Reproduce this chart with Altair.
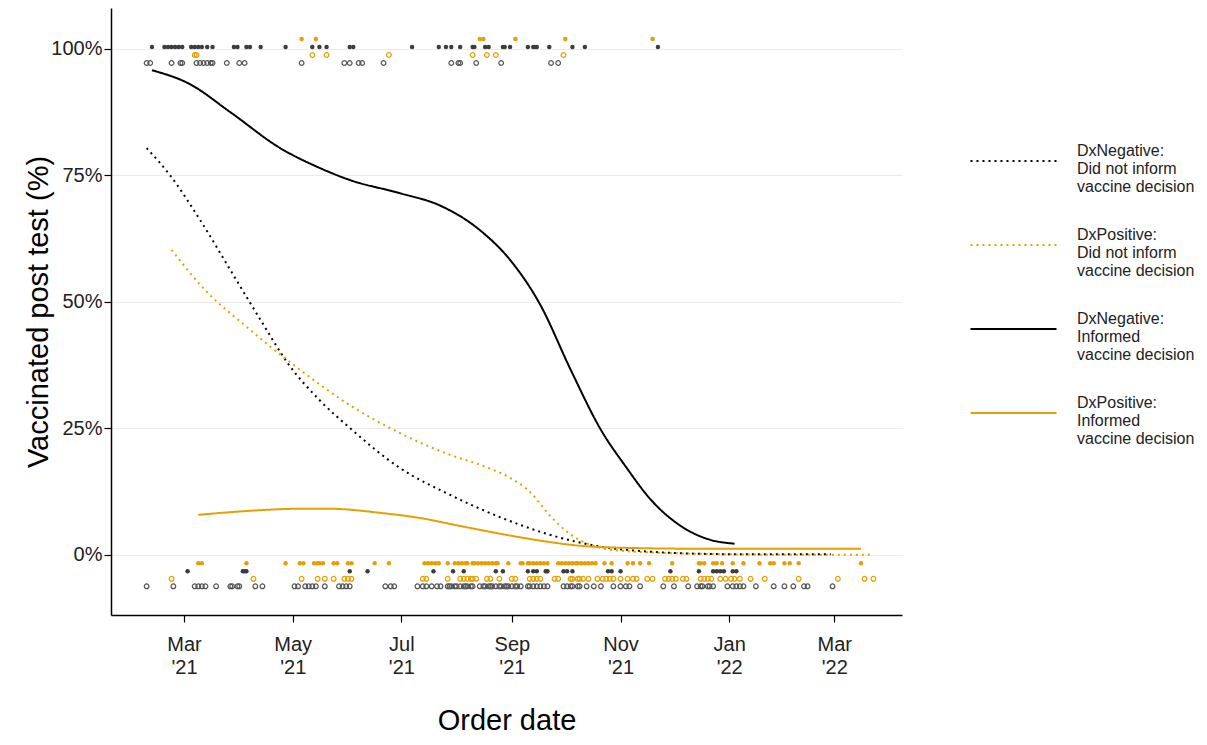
import altair as alt
import pandas as pd

# ---- Observations: order day counted from 2021-01-01 ----
# vaccinated after test (plotted near 100%)
neg_inf_vax = [41, 48, 50, 52, 54, 56, 58, 63, 65, 67, 69, 72, 75, 87, 89, 94, 96, 102, 116, 131, 135, 139,
               152, 154, 187, 202, 206, 209, 214, 221, 222, 228, 230, 238, 239, 242, 252, 255, 256, 257, 264,
               277, 284, 325]
pos_inf_vax = [125, 133, 225, 227, 245, 273, 322]
pos_not_vax = [65, 66, 131, 139, 174, 221, 229, 234, 272]
neg_not_vax = [38, 40, 52, 57, 58, 66, 68, 70, 72, 74, 75, 83, 90, 93, 125, 149, 152, 157, 159, 171, 209, 213,
               214, 223, 237, 265, 269]
# not vaccinated after test (plotted near 0%)
pos_inf_unvax = [67, 69, 94, 116, 124, 126, 132, 134, 135, 137, 143, 145, 151, 153, 166, 174, 194, 196, 198, 200,
                 202, 207, 211, 213, 215, 217, 218, 221, 222, 224, 226, 228, 230, 232, 234, 235, 241, 248, 249,
                 252, 253, 255, 257, 259, 261, 263, 269, 271, 273, 275, 277, 279, 280, 282, 284, 286, 288, 290,
                 295, 299, 308, 311, 315, 320, 333, 348, 349, 351, 356, 358, 361, 367, 373, 382, 388, 390, 396,
                 399, 404, 439]
neg_inf_unvax = [61, 92, 93, 94, 152, 162, 199, 210, 216, 234, 238, 252, 255, 257, 262, 263, 272, 274, 277, 297,
                 299, 304, 332, 348, 356, 358, 360, 362, 367, 369]
pos_not_unvax = [52, 98, 125, 134, 138, 143, 149, 151, 153, 193, 195, 207, 214, 216, 218, 220, 221, 223, 229, 231,
                 236, 243, 245, 253, 255, 257, 259, 267, 269, 276, 277, 280, 281, 283, 286, 291, 294, 296, 298,
                 300, 304, 308, 311, 313, 319, 322, 329, 331, 333, 335, 339, 341, 349, 351, 353, 355, 360, 363,
                 366, 368, 371, 377, 385, 404, 426, 441, 446]
neg_not_unvax = [38, 53, 65, 67, 69, 71, 77, 85, 86, 89, 90, 99, 103, 121, 123, 127, 129, 131, 133, 138, 146, 148,
                 150, 152, 172, 175, 177, 190, 193, 195, 198, 201, 203, 207, 208, 209, 211, 212, 214, 216, 217,
                 218, 220, 221, 225, 227, 228, 230, 231, 232, 234, 236, 237, 239, 240, 241, 243, 245, 246, 248,
                 252, 253, 255, 257, 259, 261, 263, 272, 274, 276, 277, 280, 281, 285, 289, 293, 300, 304, 307,
                 309, 315, 328, 334, 342, 347, 349, 350, 353, 354, 356, 364, 367, 369, 371, 373, 380, 390, 396,
                 401, 407, 409, 423]

# ---- Smoothed fits (day, % vaccinated) ----
neg_not_days = [38, 51, 68, 85, 102, 118, 135, 152, 180, 208, 236, 264, 293, 321, 349, 377, 405, 422]
neg_not_pct = [80.4, 75.1, 66.2, 56.3, 46.4, 37.5, 30.6, 25.1, 17.2, 11.9, 7.5, 4.0, 1.6, 0.6, 0.2, 0.1, 0.1, 0.1]
pos_not_days = [52, 68, 96, 124, 152, 180, 208, 225, 242, 253, 264, 276, 287, 304, 349, 405, 444]
pos_not_pct = [60.3, 53.4, 44.5, 36.6, 29.6, 24.1, 19.8, 17.8, 15.2, 12.5, 7.9, 4.0, 2.0, 0.8, 0.2, 0.0, 0.0]
neg_inf_days = [41, 62, 85, 113, 135, 152, 180, 203, 225, 242, 259, 276, 293, 307, 321, 337, 354, 368]
neg_inf_pct = [95.8, 93.1, 87.5, 80.4, 76.5, 74.1, 71.5, 69.0, 64.2, 58.3, 49.4, 36.6, 24.7, 17.4, 10.9, 5.9, 3.0, 2.2]
pos_inf_days = [67, 96, 124, 141, 169, 191, 214, 236, 259, 281, 304, 349, 405, 439]
pos_inf_pct = [7.9, 8.7, 9.1, 9.1, 8.3, 7.3, 5.7, 4.2, 2.8, 1.8, 1.4, 1.2, 1.2, 1.2]

series_names = [
    "DxNegative:|Did not inform|vaccine decision",
    "DxPositive:|Did not inform|vaccine decision",
    "DxNegative:|Informed|vaccine decision",
    "DxPositive:|Informed|vaccine decision",
]
series_colors = ["#000000", "#E69F00", "#000000", "#E69F00"]
series_dash = [[2, 4], [2, 4], [1, 0], [1, 0]]

ORIGIN = pd.Timestamp("2021-01-01")


def to_dates(days):
    return [ORIGIN + pd.Timedelta(days=int(d)) for d in days]


line_frames = []
for name, days, pct in zip(series_names,
                           [neg_not_days, pos_not_days, neg_inf_days, pos_inf_days],
                           [neg_not_pct, pos_not_pct, neg_inf_pct, pos_inf_pct]):
    line_frames.append(pd.DataFrame({"date": to_dates(days), "pct": pct, "series": name}))
lines_df = pd.concat(line_frames, ignore_index=True)

FONT = "Liberation Sans"
DARK = "#3c3c3c"
ORANGE = "#E69F00"

x_enc = alt.X(
    "date:T",
    scale=alt.Scale(domain=[alt.DateTime(year=2021, month=1, date=19),
                            alt.DateTime(year=2022, month=4, date=8)]),
    axis=alt.Axis(
        title="Order date",
        values=[alt.DateTime(year=2021, month=3, date=1), alt.DateTime(year=2021, month=5, date=1),
                alt.DateTime(year=2021, month=7, date=1), alt.DateTime(year=2021, month=9, date=1),
                alt.DateTime(year=2021, month=11, date=1), alt.DateTime(year=2022, month=1, date=1),
                alt.DateTime(year=2022, month=3, date=1)],
        labelExpr="[timeFormat(datum.value, '%b'), \"'\" + timeFormat(datum.value, '%y')]",
        labelLineHeight=23,
        labelFontSize=20,
        labelColor="#222222",
        labelPadding=12,
        tickSize=7,
        tickColor="black",
        tickWidth=1.2,
        domainColor="black",
        domainWidth=1.5,
        grid=False,
        titleFontSize=29,
        titleFontWeight="normal",
        titleColor="black",
        titlePadding=29,
    ),
)
y_scale = alt.Scale(domain=[-11.9, 108.1], nice=False, zero=False)
y_axis = alt.Axis(
    title="Vaccinated post test (%)",
    values=[0, 25, 50, 75, 100],
    labelExpr="datum.value + '%'",
    labelFontSize=20,
    labelColor="#222222",
    labelPadding=2,
    tickSize=7,
    tickColor="black",
    tickWidth=1.2,
    domainColor="black",
    domainWidth=1.5,
    grid=True,
    gridColor="#ebebeb",
    gridWidth=1.2,
    titleFontSize=29,
    titleFontWeight="normal",
    titleColor="black",
    titlePadding=-3,
)


def point_layer(days, outcome, filled, color, offset):
    df = pd.DataFrame({"date": to_dates(days), "pct": outcome})
    if filled:
        mark = alt.Chart(df).mark_circle(size=20, color=color, opacity=1, yOffset=offset)
    else:
        mark = alt.Chart(df).mark_point(shape="circle", filled=False, size=22, strokeWidth=1.2,
                                        color=color, opacity=1, yOffset=offset)
    return mark.encode(x=x_enc, y=alt.Y("pct:Q", scale=y_scale, axis=y_axis))


layers = [
    point_layer(pos_inf_vax, 100, True, ORANGE, -10),
    point_layer(neg_inf_vax, 100, True, DARK, -2),
    point_layer(pos_not_vax, 100, False, ORANGE, 6),
    point_layer(neg_not_vax, 100, False, "#555555", 14),
    point_layer(pos_inf_unvax, 0, True, ORANGE, 8.5),
    point_layer(neg_inf_unvax, 0, True, DARK, 16.5),
    point_layer(pos_not_unvax, 0, False, ORANGE, 24),
    point_layer(neg_not_unvax, 0, False, "#555555", 31.5),
]

legend = alt.Legend(
    title=None,
    orient="none",
    legendX=858,
    legendY=103,
    symbolType="M-1,0.13H1",
    symbolSize=7400,
    symbolStrokeWidth=2,
    labelExpr="split(datum.label, '|')",
    labelFont=FONT,
    labelFontSize=16,
    labelColor="#222222",
    labelBaseline="alphabetic",
    labelOffset=19,
    labelLimit=300,
    rowPadding=-14,
    padding=0,
)

lines = alt.Chart(lines_df).mark_line(interpolate="monotone", strokeWidth=2).encode(
    x=x_enc,
    y=alt.Y("pct:Q", scale=y_scale, axis=y_axis),
    color=alt.Color("series:N", scale=alt.Scale(domain=series_names, range=series_colors), legend=legend),
    strokeDash=alt.StrokeDash("series:N", scale=alt.Scale(domain=series_names, range=series_dash), legend=legend),
    detail="series:N",
)

chart = alt.layer(*layers, lines).properties(
    width=791,
    height=607,
    padding={"left": 16, "top": 0, "right": 0, "bottom": 0},
).configure(font=FONT).configure_view(stroke=None)

chart.save("out.html", embed_options={"renderer": "svg", "actions": False})
